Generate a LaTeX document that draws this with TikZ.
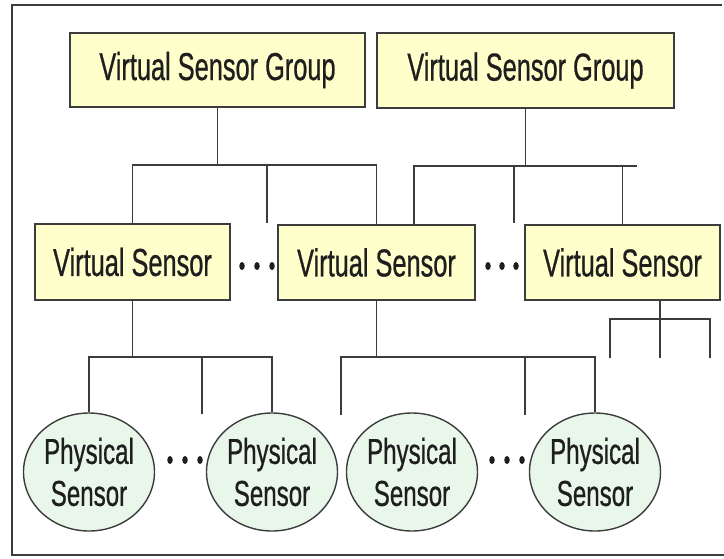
\documentclass[tikz,border=0pt]{standalone}
\usepackage{fontspec}
\newfontfamily\cond[FakeStretch=0.65,FakeBold=0.6]{Liberation Sans}
\newfontfamily\condb[FakeStretch=0.67,FakeBold=0.6]{Liberation Sans}
\usetikzlibrary{shapes.geometric}
\definecolor{boxfill}{RGB}{255,255,204}
\definecolor{ellfill}{RGB}{232,247,234}
\definecolor{edge}{RGB}{60,60,60}
\definecolor{ink}{RGB}{30,30,30}
\tikzset{
  vbox/.style={draw=edge, line width=1.4pt, fill=boxfill, inner sep=0pt,
    font=\cond\fontsize{39}{43}\selectfont, text=ink},
  pell/.style={ellipse, draw=edge, line width=1.4pt, fill=ellfill, inner sep=0pt,
    minimum width=131pt, minimum height=118pt, align=center,
    font=\condb\fontsize{36}{42}\selectfont, text=ink},
  conn/.style={draw=edge, line width=1.8pt},
  frameline/.style={draw=edge, line width=2.5pt},
  dot/.style={ellipse, fill=ink, inner sep=0pt, minimum width=5.5pt, minimum height=8pt}
}
\begin{document}
\begin{tikzpicture}[x=1pt, y=-1pt]
\useasboundingbox (0,0) rectangle (724,558);
% frame (right side not shown)
\coordinate (f1) at (722,5);
\coordinate (f2) at (12,5);
\coordinate (f3) at (12,555);
\coordinate (f4) at (724,555);
\draw[frameline] (f1) -- (f2) -- (f3) -- (f4);

% top boxes
\node[vbox, minimum width=295pt, minimum height=74pt] (VSG1) at (217.5,70) {Virtual Sensor Group};
\node[vbox, minimum width=297pt, minimum height=75pt] (VSG2) at (525.5,70.5) {Virtual Sensor Group};

% middle boxes
\node[vbox, minimum width=195pt, minimum height=76pt] (VS1) at (132.5,262) {Virtual Sensor};
\node[vbox, minimum width=197pt, minimum height=75pt] (VS2) at (376.5,262.5) {Virtual Sensor};
\node[vbox, minimum width=195pt, minimum height=75pt] (VS3) at (622.5,262.5) {Virtual Sensor};

% physical sensors
\node[pell] (P1) at (89,472) {Physical\\Sensor};
\node[pell] (P2) at (272,472) {Physical\\Sensor};
\node[pell] (P3) at (412,472) {Physical\\Sensor};
\node[pell] (P4) at (595,472) {Physical\\Sensor};

% dots
\foreach \n/\x/\y in {a1/242/266,a2/257/266,a3/272/266,
                      b1/488/266,b2/502/266,b3/516/266,
                      c1/170/460,c2/185/460,c3/200/460,
                      d1/492/460,d2/507/460,d3/522/460}
  \node[dot] (dot\n) at (\x,\y) {};

% VSG1 connectors
\coordinate (b1) at (219,165);
\coordinate (s1) at (267,165);
\coordinate (s1e) at (267,223);
\draw[conn] (VSG1.south) -- (VSG1.south |- b1);
\draw[conn] (VS1.north) |- (VS2.north |- b1) -- (VS2.north);
\draw[conn] (s1) -- (s1e);

% VSG2 connectors
\coordinate (b2l) at (414,166);
\coordinate (b2r) at (637,166);
\coordinate (s2) at (514,166);
\coordinate (s2e) at (514,223);
\draw[conn] (VSG2.south) -- (VSG2.south |- b2l);
\draw[conn] (b2l |- VS2.north) -- (b2l) -- (b2r);
\draw[conn] (s2) -- (s2e);
\draw[conn] (VS3.north) -- (VS3.north |- b2l);

% VS1 connectors
\coordinate (b3) at (133,357);
\coordinate (s3) at (202,357);
\coordinate (s3e) at (202,414);
\draw[conn] (VS1.south) -- (VS1.south |- b3);
\draw[conn] (P1.north) |- (P2.north |- b3) -- (P2.north);
\draw[conn] (s3) -- (s3e);

% VS2 connectors
\coordinate (s4a) at (341,357);
\coordinate (s4ae) at (341,415);
\coordinate (s4b) at (525,357);
\coordinate (s4be) at (525,415);
\draw[conn] (VS2.south) -- (VS2.south |- s4a);
\draw[conn] (s4ae) -- (s4a) -- (P4.north |- s4a) -- (P4.north);
\draw[conn] (s4b) -- (s4be);

% VS3 connectors
\coordinate (t5) at (660,358);
\coordinate (t5l) at (610,358);
\coordinate (t5r) at (710,358);
\coordinate (bar5) at (660,319);
\draw[conn] (VS3.south -| t5) -- (t5);
\draw[conn] (t5l) -- (t5l |- bar5) -- (t5r |- bar5) -- (t5r);
\end{tikzpicture}
\end{document}
